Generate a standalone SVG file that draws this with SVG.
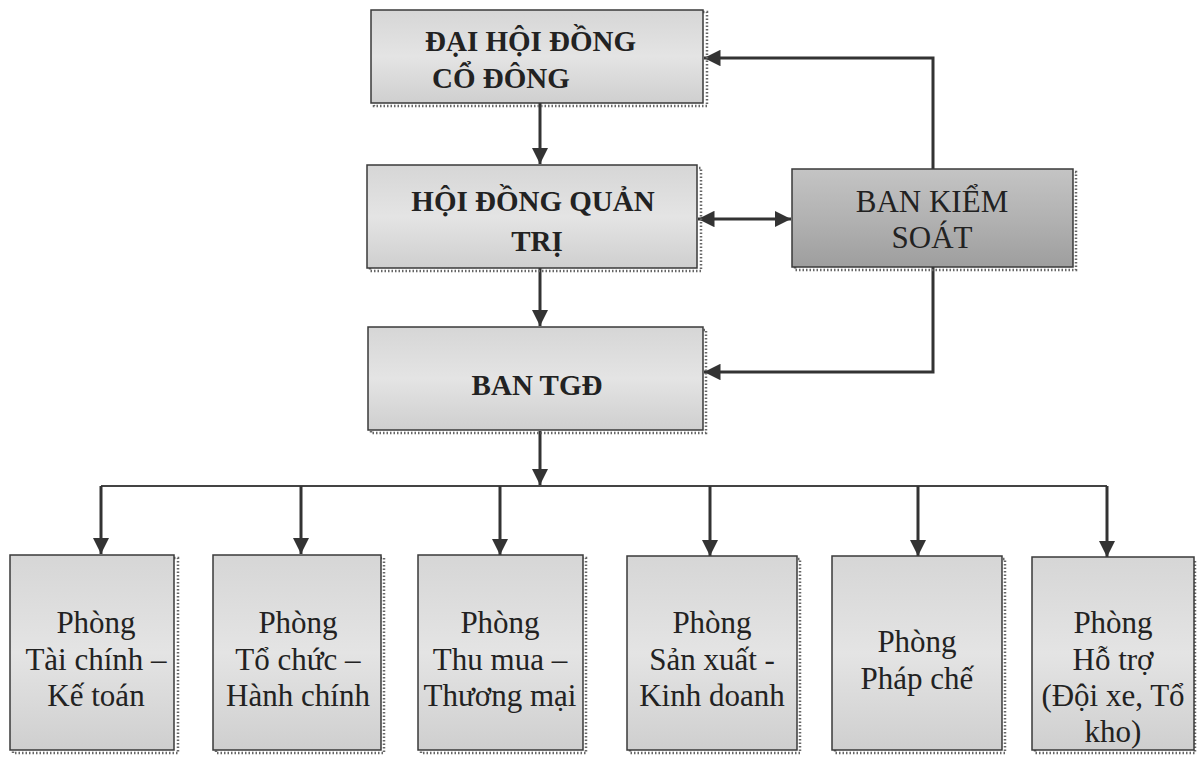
<svg xmlns="http://www.w3.org/2000/svg" width="1197" height="757" viewBox="0 0 1197 757">
<style>
.box{stroke:#3a3a3a;stroke-width:1.5;fill:url(#g1)}
.dark{stroke:#3a3a3a;stroke-width:1.5;fill:url(#g2)}
.sh{fill:none;stroke:#666;stroke-width:2.5;stroke-dasharray:1.5 2}
.tb{font-family:"Liberation Serif","Times New Roman",serif;font-weight:bold;font-size:29px;fill:#222}
.t{font-family:"Liberation Serif","Times New Roman",serif;font-size:31px;fill:#222;text-anchor:middle}
.ln{stroke:#333;stroke-width:3;fill:none}
.bus{stroke:#444;stroke-width:2;fill:none}
</style>
<defs>
<linearGradient id="g1" x1="0" y1="0" x2="0" y2="1">
<stop offset="0" stop-color="#d6d6d6"/><stop offset="0.5" stop-color="#e4e4e4"/><stop offset="1" stop-color="#cfcfcf"/>
</linearGradient>
<linearGradient id="g2" x1="0" y1="0" x2="0" y2="1">
<stop offset="0" stop-color="#c4c4c4"/><stop offset="0.5" stop-color="#b2b2b2"/><stop offset="1" stop-color="#9e9e9e"/>
</linearGradient>
<marker id="ah" viewBox="0 0 10 10" refX="10" refY="5" markerWidth="5.5" markerHeight="5.5" orient="auto-start-reverse" markerUnits="strokeWidth">
<path d="M0,0 L10,5 L0,10 z" fill="#333"/>
</marker>
</defs>

<g id="connectors">
<path class="ln" d="M540,103 V164" marker-end="url(#ah)"/>
<path class="ln" d="M540,268 V326" marker-end="url(#ah)"/>
<path class="ln" d="M540,431 V485" marker-end="url(#ah)"/>
<path class="ln" d="M698,219 H791" marker-start="url(#ah)" marker-end="url(#ah)"/>
<path class="ln" d="M933,169 V58 H704" marker-end="url(#ah)"/>
<path class="ln" d="M933,267 V372 H704" marker-end="url(#ah)"/>
<path class="bus" d="M101,486 H1107"/>
<path class="ln" d="M101,486 V554" marker-end="url(#ah)"/>
<path class="ln" d="M301,486 V554" marker-end="url(#ah)"/>
<path class="ln" d="M500,486 V555" marker-end="url(#ah)"/>
<path class="ln" d="M710,486 V556" marker-end="url(#ah)"/>
<path class="ln" d="M918,486 V556" marker-end="url(#ah)"/>
<path class="ln" d="M1107,486 V557" marker-end="url(#ah)"/>
</g>

<g id="dhdcd">
<rect class="sh" x="374" y="12" width="333" height="94"/>
<rect class="box" x="371" y="10" width="332" height="93"/>
<text class="tb" x="425" y="51">ĐẠI HỘI ĐỒNG</text>
<text class="tb" x="432" y="88">CỔ ĐÔNG</text>
</g>

<g id="hdqt">
<rect class="sh" x="370" y="168" width="331" height="103"/>
<rect class="box" x="367" y="165" width="330" height="103"/>
<text class="tb" x="533" y="211" text-anchor="middle">HỘI ĐỒNG QUẢN</text>
<text class="tb" x="537" y="251" text-anchor="middle">TRỊ</text>
</g>

<g id="bks">
<rect class="sh" x="795" y="172" width="281" height="98"/>
<rect class="dark" x="792" y="169" width="281" height="98"/>
<text class="t" x="932" y="212">BAN KIỂM</text>
<text class="t" x="932" y="248">SOÁT</text>
</g>

<g id="bantgd">
<rect class="sh" x="371" y="330" width="335" height="103"/>
<rect class="box" x="368" y="327" width="335" height="103"/>
<text class="tb" x="537" y="395" text-anchor="middle">BAN TGĐ</text>
</g>

<g id="p1">
<rect class="sh" x="13" y="558" width="165" height="195"/>
<rect class="box" x="10" y="555" width="164" height="195"/>
<text class="t" x="96" y="633">Phòng</text>
<text class="t" x="96" y="670">Tài chính –</text>
<text class="t" x="96" y="706">Kế toán</text>
</g>

<g id="p2">
<rect class="sh" x="216" y="558" width="168" height="195"/>
<rect class="box" x="213" y="555" width="168" height="195"/>
<text class="t" x="298" y="633">Phòng</text>
<text class="t" x="298" y="670">Tổ chức –</text>
<text class="t" x="298" y="706">Hành chính</text>
</g>

<g id="p3">
<rect class="sh" x="421" y="558" width="165" height="195"/>
<rect class="box" x="418" y="555" width="165" height="195"/>
<text class="t" x="500" y="633">Phòng</text>
<text class="t" x="500" y="670">Thu mua –</text>
<text class="t" x="500" y="706">Thương mại</text>
</g>

<g id="p4">
<rect class="sh" x="630" y="559" width="170" height="194"/>
<rect class="box" x="627" y="556" width="170" height="194"/>
<text class="t" x="712" y="633">Phòng</text>
<text class="t" x="712" y="670">Sản xuất -</text>
<text class="t" x="712" y="706">Kinh doanh</text>
</g>

<g id="p5">
<rect class="sh" x="835" y="559" width="170" height="194"/>
<rect class="box" x="832" y="556" width="170" height="194"/>
<text class="t" x="917" y="652">Phòng</text>
<text class="t" x="917" y="689">Pháp chế</text>
</g>

<g id="p6">
<rect class="sh" x="1035" y="560" width="160" height="193"/>
<rect class="box" x="1032" y="557" width="162" height="193"/>
<text class="t" x="1113" y="633">Phòng</text>
<text class="t" x="1113" y="670">Hỗ trợ</text>
<text class="t" x="1113" y="706">(Đội xe, Tổ</text>
<text class="t" x="1113" y="742">kho)</text>
</g>
</svg>
